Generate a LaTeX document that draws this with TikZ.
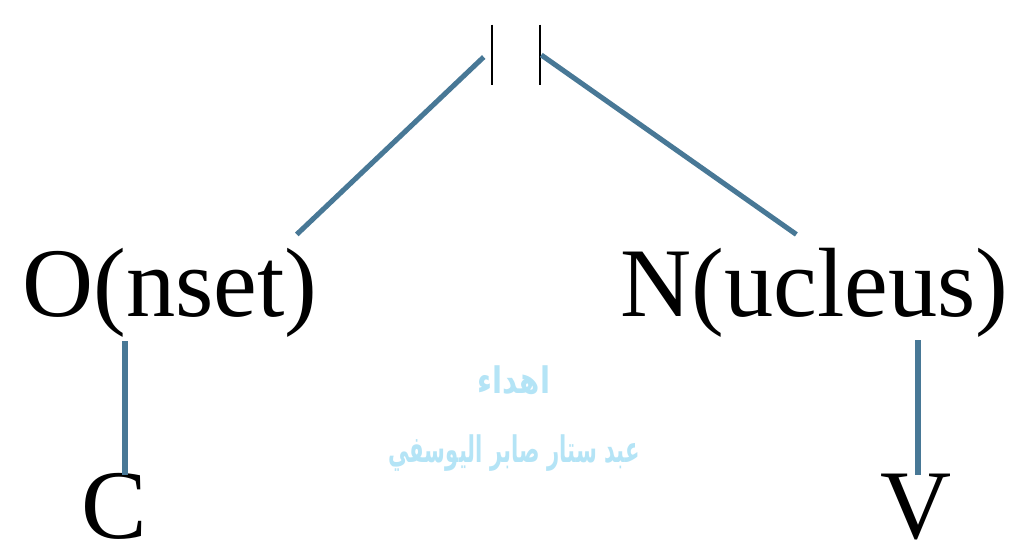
\documentclass[tikz,border=0pt]{standalone}
\usepackage{fontspec}
\setmainfont{Liberation Serif}
\newfontfamily\arabicfont[Script=Arabic]{DejaVu Sans}
\TeXXeTstate=1
\usetikzlibrary{calc}
\definecolor{AzulAcero}{RGB}{72,120,150}
\definecolor{CianPalido}{RGB}{180,228,246}

\begin{document}
\begin{tikzpicture}[x=0.025cm, y=-0.025cm,
    seg/.style={font=\fontsize{70}{70}\selectfont, inner sep=0pt},
    link/.style={draw=AzulAcero, line width=3.6pt},
    bar/.style={draw=black, line width=1.2pt},
    marca/.style={text=CianPalido, font=\arabicfont\bfseries\fontsize{26}{30}\selectfont, inner sep=0pt}
  ]
    \fill[white] (0,0) rectangle (1017,546);
    \useasboundingbox (0,0) rectangle (1017,546);
    \node[minimum width=1.2cm, minimum height=1.5cm, inner sep=0pt] (syl) at (516,55) {};
    \draw[bar] (syl.north west) -- (syl.south west);
    \draw[bar] (syl.north east) -- (syl.south east);
    \node[seg, anchor=base west] (on) at (22,316) {O(nset)};
    \node[seg, anchor=base west] (nu) at (620,316) {N(ucleus)};
    \node[seg, anchor=base] (c) at (114,538) {C};
    \node[seg, anchor=base] (v) at (916,538) {V};
    \node[marca] (m1) at (514,380) {\scalebox{0.8}[1]{\beginR اهداء\endR}};
    \node[marca] (m2) at (514,453) {\scalebox{0.58}[1]{\beginR عبد ستار صابر اليوسفي\endR}};
    \draw[link] ($(syl.west)+(-8,2)$) -- ($(on.north east)+(-21,-13)$);
    \draw[link] ($(syl.east)+(1,0)$) -- ($(nu.north)+(-18,-13)$);
    \draw[link] ($(on.south west)+(103,4)$) -- ($(c.north)+(11,2)$);
    \draw[link] ($(nu.south west)+(298,3)$) -- ($(v.north)+(2,2)$);
  \end{tikzpicture}
\end{document}
